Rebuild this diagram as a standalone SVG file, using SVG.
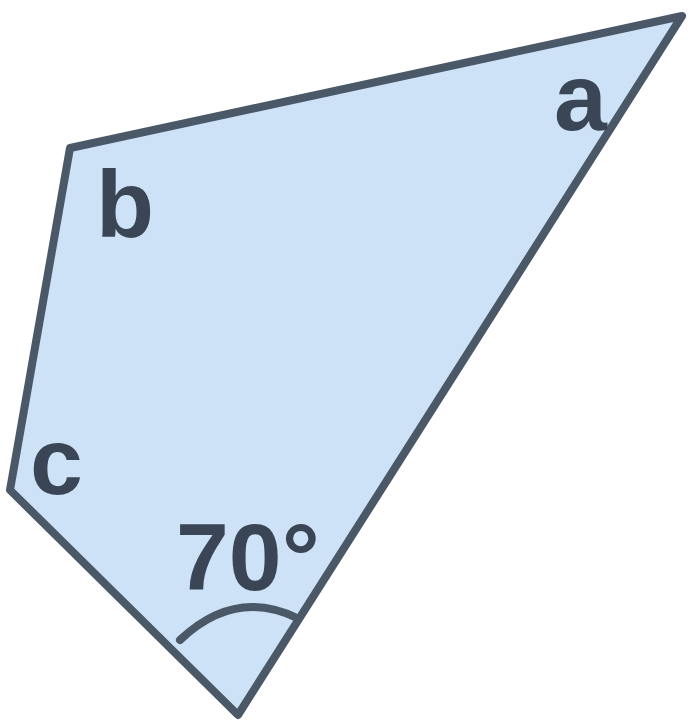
<svg xmlns="http://www.w3.org/2000/svg" width="688" height="723" viewBox="0 0 688 723">
<style>
.lbl{font-family:"Liberation Sans",Arial,sans-serif;font-size:95px;fill:#3a4656;font-weight:bold;}
.edge{fill:none;stroke:#4a5868;stroke-width:8;stroke-linejoin:round;stroke-linecap:round;}
.face{fill:#cde2f6;stroke:#4a5868;stroke-width:8;stroke-linejoin:round;}
</style>
<rect width="688" height="723" fill="#ffffff"/>
<g id="shape">
<polygon points="682,16 70,148 10,490 238,715" class="face"/>
</g>
<g id="connectors">
<path d="M180,640 Q235,588 297,618" class="edge" stroke-width="6"/>
</g>
<g id="label-a"><text class="lbl" x="554" y="130">a</text></g>
<g id="label-b"><text class="lbl" x="96" y="237">b</text></g>
<g id="label-c"><text class="lbl" x="30" y="494">c</text></g>
<g id="label-70"><text class="lbl" x="176" y="590">70°</text></g>
</svg>
